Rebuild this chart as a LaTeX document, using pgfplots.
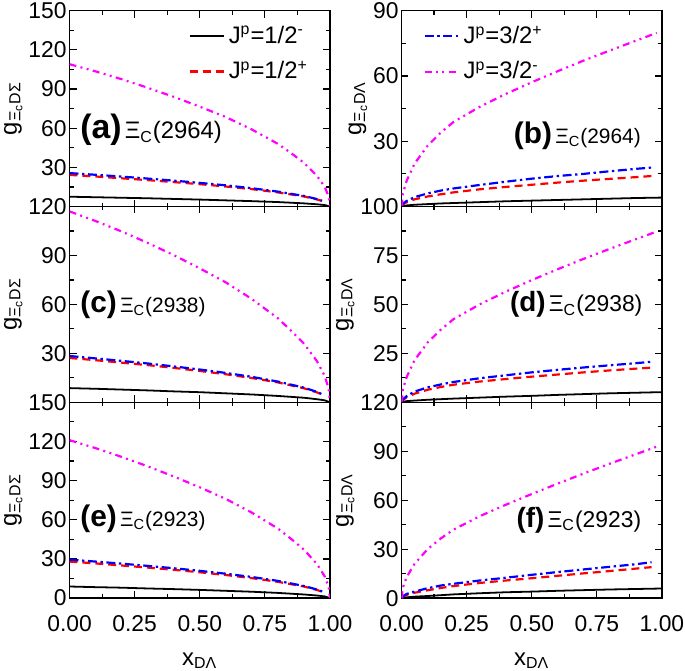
\documentclass[border=0pt]{standalone}
\usepackage{fontspec}
\setmainfont{Liberation Sans}
\usepackage{pgfplots}
\pgfplotsset{compat=1.18}
\usepgfplotslibrary{groupplots}
\definecolor{cmag}{RGB}{255,0,255}
\definecolor{cred}{RGB}{255,0,0}
\definecolor{cblue}{RGB}{0,0,255}
\pgfplotsset{
  sA/.style={black, line width=0.9pt},
  sB/.style={cred, line width=1.1pt, dash pattern=on 4pt off 2.5pt},
  sC/.style={cblue, line width=1.1pt, dash pattern=on 4.5pt off 1.8pt on 1.2pt off 1.8pt},
  sD/.style={cmag, line width=1.1pt, dash pattern=on 3.5pt off 2.2pt on 1pt off 2.2pt on 1pt off 2.2pt},
}
\begin{document}
\begin{tikzpicture}
\begin{groupplot}[
  group style={group size=2 by 3, horizontal sep=36pt, vertical sep=0pt,
    xlabels at=edge bottom, xticklabels at=edge bottom},
  width=131pt, height=98.5pt, scale only axis,
  xmin=0, xmax=1,
  xtick={0,0.25,0.5,0.75,1}, minor x tick num=1,
  tick align=inside, major tick length=3.5pt, minor tick length=2pt,
  tick style={line width=0.6pt, black},
  axis line style={line width=0.75pt},
  tick label style={font=\fontsize{11.5}{13}\selectfont, inner sep=1.3pt},
  /pgf/number format/assume math mode=true,
  xticklabel style={inner sep=0.4pt, yshift=-8pt, /pgf/number format/fixed, /pgf/number format/fixed zerofill, /pgf/number format/precision=2},
  label style={font=\fontsize{12}{13}\selectfont},
  ylabel style={inner sep=2pt, yshift=-0.5pt},
  xlabel style={inner sep=1pt, yshift=-9pt},
  xlabel={x\textsubscript{DΛ}},
  legend style={draw=none, fill=none, font=\fontsize{12}{14}\selectfont, row sep=3.5pt, cells={anchor=west}},
]
% (a)
\nextgroupplot[ymin=0, ymax=150, ytick={30,60,90,120,150}, minor ytick={15,45,75,105,135},
  ylabel={g\textsubscript{Ξ\textsubscript{c}DΣ}},
  legend style={at={(0.955,0.965)}, anchor=north east}]
\addplot[sA] coordinates {(0,7.5)(0.1,7.1)(0.2,6.7)(0.3,6.3)(0.4,5.8)(0.5,5.3)(0.6,4.7)(0.7,4.1)(0.8,3.4)(0.9,2.4)(0.95,1.7)(0.98,1.1)(1,0)};
\addlegendentry{J\textsuperscript{p}=1/2\textsuperscript{-}}
\addplot[sB] coordinates {(0,24.2)(0.1,23.0)(0.2,21.6)(0.3,20.2)(0.4,18.7)(0.5,17.1)(0.6,15.3)(0.7,13.3)(0.8,10.8)(0.9,7.7)(0.95,5.4)(0.97,4.2)};
\addlegendentry{J\textsuperscript{p}=1/2\textsuperscript{+}}
\addplot[sC, forget plot] coordinates {(0,25.6)(0.1,24.3)(0.2,22.9)(0.3,21.4)(0.4,19.8)(0.5,18.1)(0.6,16.2)(0.7,14.0)(0.8,11.4)(0.9,8.1)(0.95,5.7)(0.97,4.4)};
\addplot[sD, forget plot] coordinates {(0,109)(0.1,103.5)(0.2,97.5)(0.3,91)(0.4,84)(0.5,76.5)(0.6,68.5)(0.7,59)(0.8,48)(0.85,41)(0.9,33.5)(0.95,23.5)(0.98,15)(0.995,7.5)(1,0)};
\node[anchor=west, inner sep=0pt] at (rel axis cs:0.04,0.39) {{\fontsize{17}{17}\selectfont\bfseries (a)}\,{\fontsize{12}{12}\selectfont Ξ\textsubscript{C}(2964)}};
% (b)
\nextgroupplot[ymin=0, ymax=90, ytick={30,60,90}, minor ytick={15,45,75},
  ylabel={g\textsubscript{Ξ\textsubscript{c}DΛ}},
  legend style={at={(0.06,0.965)}, anchor=north west}]
\addplot[sA, forget plot] coordinates {(0,0)(0.005,0.2)(0.02,0.5)(0.05,0.8)(0.1,1.1)(0.15,1.4)(0.2,1.6)(0.3,2.0)(0.4,2.4)(0.5,2.7)(0.6,3.0)(0.7,3.3)(0.8,3.6)(0.9,3.9)(1,4.1)};
\addplot[sB, forget plot] coordinates {(0,0)(0.005,1.0)(0.02,2.0)(0.05,3.3)(0.1,4.6)(0.15,5.6)(0.2,6.5)(0.3,7.9)(0.4,9.0)(0.5,10.0)(0.6,11.0)(0.7,11.9)(0.8,12.7)(0.9,13.5)(0.96,14.0)};
\addplot[sC] coordinates {(0,0)(0.005,1.3)(0.02,2.6)(0.05,4.3)(0.1,6.0)(0.15,7.3)(0.2,8.3)(0.3,9.9)(0.4,11.4)(0.5,12.8)(0.6,14.0)(0.7,15.0)(0.8,16.2)(0.9,17.3)(0.96,17.9)};
\addlegendentry{J\textsuperscript{p}=3/2\textsuperscript{+}}
\addplot[sD] coordinates {(0,0)(0.005,5.9)(0.02,11.9)(0.05,19.7)(0.1,27.9)(0.15,33.9)(0.2,38.9)(0.3,45.8)(0.4,51.7)(0.5,57.1)(0.6,62.2)(0.7,67.1)(0.8,71.7)(0.9,76.2)(0.98,79.8)};
\addlegendentry{J\textsuperscript{p}=3/2\textsuperscript{-}}
\node[anchor=west, inner sep=0pt] at (rel axis cs:0.43,0.36) {{\fontsize{15}{15}\selectfont\bfseries (b)}\,{\fontsize{10.5}{10.5}\selectfont Ξ\textsubscript{C}(2964)}};
% (c)
\nextgroupplot[ymin=0, ymax=120, ytick={30,60,90,120}, minor ytick={15,45,75,105},
  ylabel={g\textsubscript{Ξ\textsubscript{c}DΣ}}]
\addplot[sA] coordinates {(0,8.7)(0.1,8.3)(0.2,7.8)(0.3,7.3)(0.4,6.7)(0.5,6.2)(0.6,5.5)(0.7,4.8)(0.8,3.9)(0.9,2.8)(0.95,1.9)(0.98,1.2)(1,0)};
\addplot[sB] coordinates {(0,27.2)(0.1,25.8)(0.2,24.3)(0.3,22.8)(0.4,21.1)(0.5,19.2)(0.6,17.2)(0.7,14.9)(0.8,12.2)(0.9,8.6)(0.95,6.1)(0.97,4.7)};
\addplot[sC] coordinates {(0,28.4)(0.1,26.9)(0.2,25.4)(0.3,23.8)(0.4,22.0)(0.5,20.1)(0.6,18.0)(0.7,15.6)(0.8,12.7)(0.9,9.0)(0.95,6.4)(0.97,4.9)};
\addplot[sD] coordinates {(0,117)(0.1,111.1)(0.2,104.7)(0.3,97.7)(0.4,90.2)(0.5,82.1)(0.6,73.5)(0.7,63.3)(0.8,51.5)(0.85,44.0)(0.9,36.0)(0.95,25.2)(0.98,16.1)(0.995,8.2)(1,0)};
\node[anchor=west, inner sep=0pt] at (rel axis cs:0.04,0.50) {{\fontsize{15}{15}\selectfont\bfseries (c)}\,{\fontsize{10.5}{10.5}\selectfont Ξ\textsubscript{C}(2938)}};
% (d)
\nextgroupplot[ymin=0, ymax=100, ytick={25,50,75,100}, minor ytick={12.5,37.5,62.5,87.5},
  ylabel={g\textsubscript{Ξ\textsubscript{c}DΛ}}]
\addplot[sA] coordinates {(0,0)(0.005,0.3)(0.02,0.6)(0.05,0.9)(0.1,1.3)(0.15,1.6)(0.2,1.9)(0.3,2.4)(0.4,2.9)(0.5,3.3)(0.6,3.8)(0.7,4.2)(0.8,4.6)(0.9,4.9)(1,5.2)};
\addplot[sB] coordinates {(0,0)(0.005,1.2)(0.02,2.6)(0.05,4.4)(0.1,6.4)(0.15,7.8)(0.2,9.0)(0.3,10.6)(0.4,11.9)(0.5,13.1)(0.6,14.2)(0.7,15.3)(0.8,16.3)(0.9,17.2)(0.96,17.7)};
\addplot[sC] coordinates {(0,0)(0.005,1.5)(0.02,3.2)(0.05,5.5)(0.1,7.6)(0.15,9.1)(0.2,10.4)(0.3,12.3)(0.4,13.8)(0.5,15.3)(0.6,16.6)(0.7,17.8)(0.8,18.9)(0.9,20.0)(0.96,20.7)};
\addplot[sD] coordinates {(0,0)(0.005,6.5)(0.02,13)(0.05,21.5)(0.1,30.5)(0.15,37)(0.2,42.5)(0.3,50)(0.4,56.5)(0.5,62.4)(0.6,68)(0.7,73.3)(0.8,78.4)(0.9,83.3)(0.98,87.2)};
\node[anchor=west, inner sep=0pt] at (rel axis cs:0.415,0.50) {{\fontsize{14}{14}\selectfont\bfseries (d)}\,{\fontsize{11.5}{11.5}\selectfont Ξ\textsubscript{C}(2938)}};
% (e)
\nextgroupplot[ymin=0, ymax=150, ytick={0,30,60,90,120,150}, minor ytick={15,45,75,105,135},
  ylabel={g\textsubscript{Ξ\textsubscript{c}DΣ}}]
\addplot[sA] coordinates {(0,8.9)(0.1,8.4)(0.2,8.0)(0.3,7.4)(0.4,6.9)(0.5,6.3)(0.6,5.6)(0.7,4.9)(0.8,4.0)(0.9,2.8)(0.95,2.0)(0.98,1.3)(1,0)};
\addplot[sB] coordinates {(0,28.0)(0.1,26.6)(0.2,25.0)(0.3,23.4)(0.4,21.7)(0.5,19.8)(0.6,17.7)(0.7,15.3)(0.8,12.5)(0.9,8.9)(0.95,6.3)(0.97,4.8)};
\addplot[sC] coordinates {(0,29.5)(0.1,28.0)(0.2,26.4)(0.3,24.7)(0.4,22.9)(0.5,20.9)(0.6,18.7)(0.7,16.2)(0.8,13.2)(0.9,9.3)(0.95,6.6)(0.97,5.1)};
\addplot[sD] coordinates {(0,121)(0.1,114.9)(0.2,108.2)(0.3,101.0)(0.4,93.2)(0.5,84.9)(0.6,76.0)(0.7,65.5)(0.8,53.3)(0.85,45.5)(0.9,37.2)(0.95,26.1)(0.98,16.6)(0.995,8.5)(1,0)};
\node[anchor=west, inner sep=0pt] at (rel axis cs:0.04,0.405) {{\fontsize{15}{15}\selectfont\bfseries (e)}\,{\fontsize{10.5}{10.5}\selectfont Ξ\textsubscript{C}(2923)}};
% (f)
\nextgroupplot[ymin=0, ymax=120, ytick={0,30,60,90,120}, minor ytick={15,45,75,105},
  ylabel={g\textsubscript{Ξ\textsubscript{c}DΛ}}]
\addplot[sA] coordinates {(0,0)(0.005,0.3)(0.02,0.5)(0.05,0.9)(0.1,1.3)(0.15,1.8)(0.2,2.3)(0.3,3.0)(0.4,3.6)(0.5,4.0)(0.6,4.5)(0.7,4.9)(0.8,5.3)(0.9,5.6)(1,5.9)};
\addplot[sB] coordinates {(0,0)(0.005,0.9)(0.02,2.0)(0.05,3.3)(0.1,4.8)(0.15,6.2)(0.2,7.4)(0.3,9.3)(0.4,10.8)(0.5,12.2)(0.6,13.7)(0.7,15.2)(0.8,16.6)(0.9,18.1)(0.96,19.0)};
\addplot[sC] coordinates {(0,0)(0.005,1.2)(0.02,2.6)(0.05,4.0)(0.1,6.1)(0.15,7.7)(0.2,8.8)(0.3,10.8)(0.4,12.5)(0.5,14.3)(0.6,16.0)(0.7,17.6)(0.8,19.2)(0.9,20.8)(0.96,22.0)};
\addplot[sD] coordinates {(0,0)(0.005,6.5)(0.02,13)(0.05,21)(0.1,30)(0.15,36.5)(0.2,42)(0.3,50.2)(0.4,57.2)(0.5,63.8)(0.6,70.2)(0.7,76.4)(0.8,82.4)(0.9,88.2)(0.98,92.8)};
\node[anchor=west, inner sep=0pt] at (rel axis cs:0.44,0.40) {{\fontsize{14}{14}\selectfont\bfseries (f)}\,{\fontsize{11.5}{11.5}\selectfont Ξ\textsubscript{C}(2923)}};
\end{groupplot}
\end{tikzpicture}
\end{document}
